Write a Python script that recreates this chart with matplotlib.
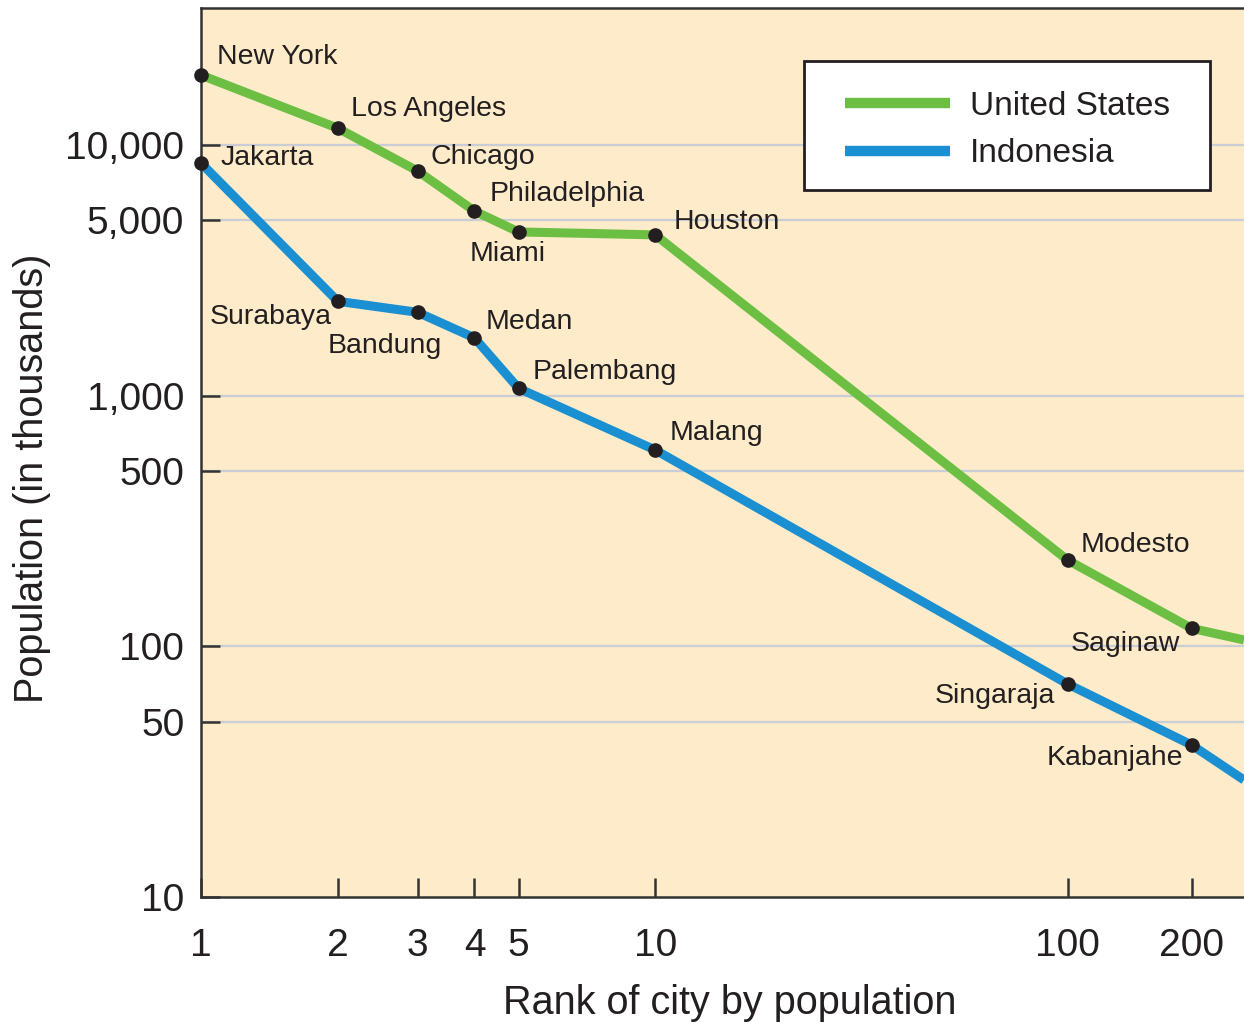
import numpy as np
import matplotlib
matplotlib.use("Agg")
import matplotlib.pyplot as plt
from matplotlib.ticker import NullLocator
from matplotlib.patches import Rectangle
from matplotlib.lines import Line2D

plt.rcParams["font.family"] = ["Liberation Sans", "DejaVu Sans"]

# city rank vs population (thousands)
us_cities = ["New York", "Los Angeles", "Chicago", "Philadelphia", "Miami",
             "Houston", "Modesto", "Saginaw"]
us_rank = [1, 2, 3, 4, 5, 10, 100, 200]
us_pop = [19000, 11670, 7870, 5450, 4500, 4380, 221, 118]

indo_cities = ["Jakarta", "Surabaya", "Bandung", "Medan", "Palembang",
               "Malang", "Singaraja", "Kabanjahe"]
indo_rank = [1, 2, 3, 4, 5, 10, 100, 200]
indo_pop = [8470, 2380, 2150, 1700, 1070, 607, 70.8, 40.4]

# lines run on past the last labelled city to the edge
tail_rank = 268
us_tail = 106
indo_tail = 29.3

x_ticks = [1, 2, 3, 4, 5, 10, 100, 200]
y_ticks = [10, 50, 100, 500, 1000, 5000, 10000]
y_tick_labels = ["10", "50", "100", "500", "1,000", "5,000", "10,000"]

# label offsets in pixels (dx, dy, ha)
us_offsets = [(16, 18, "left"), (13, 19, "left"), (13, 14, "left"),
              (15, 17, "left"), (-11, -22, "center"), (18, 13, "left"),
              (13, 15, "left"), (-12, -16, "right")]
indo_offsets = [(20, 5, "left"), (-6, -16, "right"), (-33, -34, "center"),
                (11, 16, "left"), (14, 16, "left"), (14, 17, "left"),
                (-12, -12, "right"), (-8, -13, "right")]

green = "#6CBF43"
blue = "#1A8FD1"
ink = "#231F20"

# the upper decade of the rank axis is drawn a little tighter
k = 412 / 454


def fwd(x):
    lx = np.log10(np.clip(np.asarray(x, float), 1e-3, None))
    return np.where(lx <= 1, lx, 1 + (lx - 1) * k)


def inv(t):
    t = np.asarray(t, float)
    return 10 ** np.where(t <= 1, t, 1 + (t - 1) / k)


fig = plt.figure(figsize=(12.44, 10.23), dpi=100)
ax = fig.add_axes([201 / 1244, 1 - 897 / 1023, 1 - 201 / 1244, 889 / 1023])
ax.set_facecolor("#FDEBC9")

ax.set_xscale("function", functions=(fwd, inv))
ax.set_yscale("log")
ax.set_xlim(1, tail_rank)
ax.set_ylim(10, 35200)

for v in y_ticks[1:]:
    ax.axhline(v, color="#C9CDD6", lw=1.6, zorder=1)

ax.plot(us_rank + [tail_rank], us_pop + [us_tail], color=green, lw=6.5,
        solid_capstyle="butt", zorder=3)
ax.plot(indo_rank + [tail_rank], indo_pop + [indo_tail], color=blue, lw=6.5,
        solid_capstyle="butt", zorder=3)
ax.plot(us_rank, us_pop, "o", color=ink, ms=9.5, zorder=4, clip_on=False)
ax.plot(indo_rank, indo_pop, "o", color=ink, ms=9.5, zorder=4, clip_on=False)

for names, xs, ys, offs in [(us_cities, us_rank, us_pop, us_offsets),
                            (indo_cities, indo_rank, indo_pop, indo_offsets)]:
    for name, x, y, (dx, dy, ha) in zip(names, xs, ys, offs):
        ax.annotate(name, (x, y), xytext=(dx, dy), textcoords="offset pixels",
                    ha=ha, va="center", fontsize=20.5, color=ink, zorder=5)

ax.set_xticks(x_ticks)
ax.set_xticklabels([str(v) for v in x_ticks])
ax.xaxis.set_minor_locator(NullLocator())
ax.set_yticks(y_ticks)
ax.set_yticklabels(y_tick_labels)
ax.yaxis.set_minor_locator(NullLocator())
ax.tick_params(axis="both", direction="in", length=14, width=1.8,
               color="#333333", labelsize=28, labelcolor=ink)
ax.tick_params(axis="x", pad=22)
ax.tick_params(axis="y", pad=12)

for side in ["left", "bottom", "top"]:
    ax.spines[side].set_color("#333333")
    ax.spines[side].set_linewidth(1.8)
ax.spines["right"].set_visible(False)

# legend: white box drawn separately, entries placed inside it
ax.add_patch(Rectangle((0.5781, 0.7953), 0.9674 - 0.5781, 0.9404 - 0.7953,
                       transform=ax.transAxes, facecolor="white",
                       edgecolor=ink, lw=2, zorder=6))
handles = [Line2D([], [], color=green, lw=7.5, solid_capstyle="butt"),
           Line2D([], [], color=blue, lw=7.5, solid_capstyle="butt")]
leg = ax.legend(handles, ["United States", "Indonesia"], loc="center left",
                bbox_to_anchor=((845 - 201) / 1043, (897 - 130) / 889),
                fontsize=24, frameon=False, handlelength=3.15,
                handletextpad=0.6, borderpad=0, labelspacing=0.5,
                borderaxespad=0)
leg.set_zorder(7)
for t in leg.get_texts():
    t.set_color(ink)

fig.text(730 / 1244, 1 - 1003 / 1023, "Rank of city by population",
         ha="center", va="center", fontsize=28.5, color=ink)
fig.text(32 / 1244, 1 - 478 / 1023, "Population (in thousands)",
         ha="center", va="center", rotation=90, fontsize=28.5, color=ink)

fig.savefig("out.png", dpi=100)
